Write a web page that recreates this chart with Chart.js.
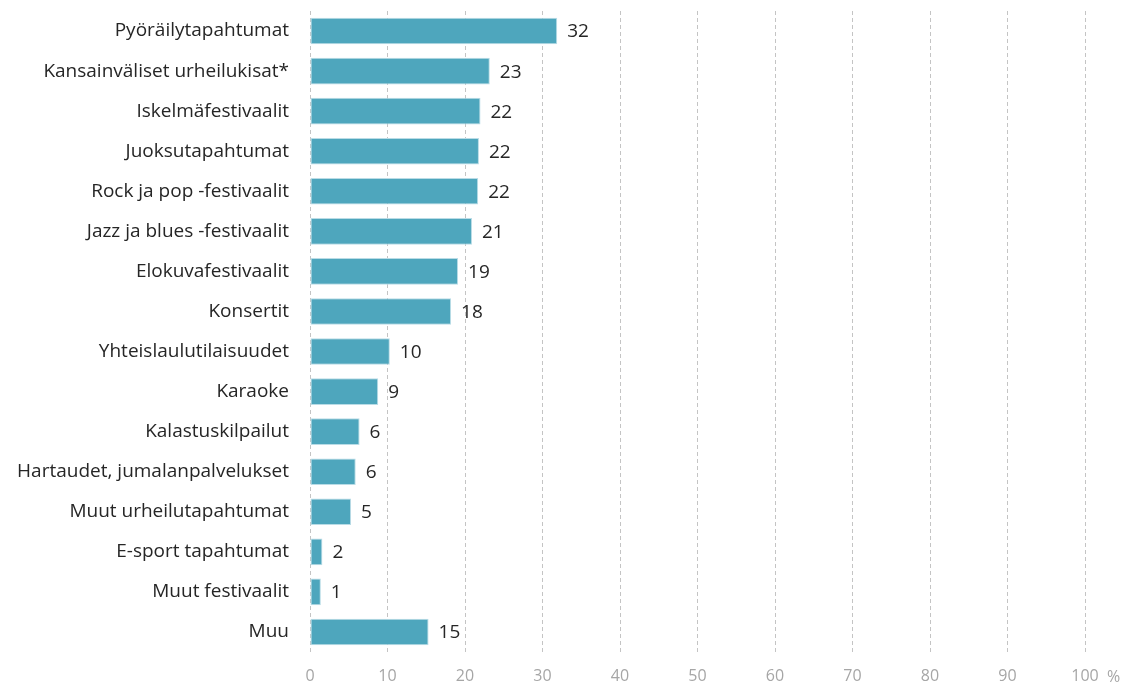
<!DOCTYPE html>
<html lang="fi">
<head>
  <meta charset="UTF-8" />
  <title>Tapahtumat</title>
  <script src="https://cdn.jsdelivr.net/npm/chart.js"></script>
  <style>
    html, body { margin: 0; padding: 0; background: #fff; }
    #wrap { width: 1133px; height: 683px; position: relative; }
  </style>
</head>
<body>
  <div id="wrap"><canvas id="eventChart"></canvas></div>

  <script>
    const categories = [
      'Pyöräilytapahtumat',
      'Kansainväliset urheilukisat*',
      'Iskelmäfestivaalit',
      'Juoksutapahtumat',
      'Rock ja pop -festivaalit',
      'Jazz ja blues -festivaalit',
      'Elokuvafestivaalit',
      'Konsertit',
      'Yhteislaulutilaisuudet',
      'Karaoke',
      'Kalastuskilpailut',
      'Hartaudet, jumalanpalvelukset',
      'Muut urheilutapahtumat',
      'E-sport tapahtumat',
      'Muut festivaalit',
      'Muu'
    ];
    // shares in percent, labels show them rounded
    const shares = [31.9, 23.2, 22.0, 21.8, 21.7, 20.9, 19.1, 18.2, 10.3, 8.8, 6.4, 5.9, 5.3, 1.6, 1.4, 15.3];
    const xTicks = [0, 10, 20, 30, 40, 50, 60, 70, 80, 90, 100];

    const fontFamily = '"Open Sans", Lato, sans-serif';
    const labelFont = '19px ' + fontFamily;

    // value labels next to each bar
    const valueLabels = {
      id: 'valueLabels',
      afterDatasetsDraw(chart) {
        const ctx = chart.ctx;
        const meta = chart.getDatasetMeta(0);
        ctx.save();
        ctx.font = labelFont;
        ctx.fillStyle = '#262626';
        ctx.textAlign = 'left';
        ctx.textBaseline = 'middle';
        meta.data.forEach((bar, i) => {
          ctx.fillText(String(Math.round(shares[i])), bar.x + 10, bar.y + 1);
        });
        ctx.restore();
      }
    };

    // unit sign after the last x tick
    const unitSign = {
      id: 'unitSign',
      afterDraw(chart) {
        const ctx = chart.ctx;
        const xs = chart.scales.x;
        ctx.save();
        ctx.font = '16px ' + fontFamily;
        ctx.fillStyle = '#a6a6a6';
        ctx.textAlign = 'left';
        ctx.textBaseline = 'middle';
        ctx.fillText('%', xs.right + 22, xs.top + 25);
        ctx.restore();
      }
    };

    new Chart(document.getElementById('eventChart'), {
      type: 'bar',
      data: {
        labels: categories,
        datasets: [{
          data: shares,
          backgroundColor: '#4ea6bd',
          borderColor: '#b9dce6',
          borderWidth: 1,
          borderSkipped: false,
          categoryPercentage: 0.8,
          barPercentage: 0.83
        }]
      },
      options: {
        indexAxis: 'y',
        responsive: true,
        maintainAspectRatio: false,
        animation: false,
        layout: { padding: { left: 0, right: 48, top: 0, bottom: 0 } },
        plugins: {
          legend: { display: false },
          tooltip: { enabled: false }
        },
        scales: {
          x: {
            min: 0,
            max: 100,
            afterBuildTicks(scale) {
              scale.ticks = xTicks.map(v => ({ value: v }));
            },
            afterFit(scale) { scale.height = 31; },
            grid: {
              color: '#c4c4c4',
              lineWidth: 1,
              drawTicks: false
            },
            border: { display: false, dash: [4, 3] },
            ticks: {
              color: '#a6a6a6',
              font: { family: fontFamily, size: 16 },
              padding: 15
            }
          },
          y: {
            afterFit(scale) {
              scale.width = 310;
              scale.paddingTop = 11;
              scale.paddingBottom = 0;
            },
            grid: { display: false, drawTicks: false },
            border: { display: false },
            ticks: {
              color: '#262626',
              font: { family: fontFamily, size: 19 },
              padding: 21,
              autoSkip: false
            }
          }
        }
      },
      plugins: [valueLabels, unitSign]
    });
  </script>
</body>
</html>
